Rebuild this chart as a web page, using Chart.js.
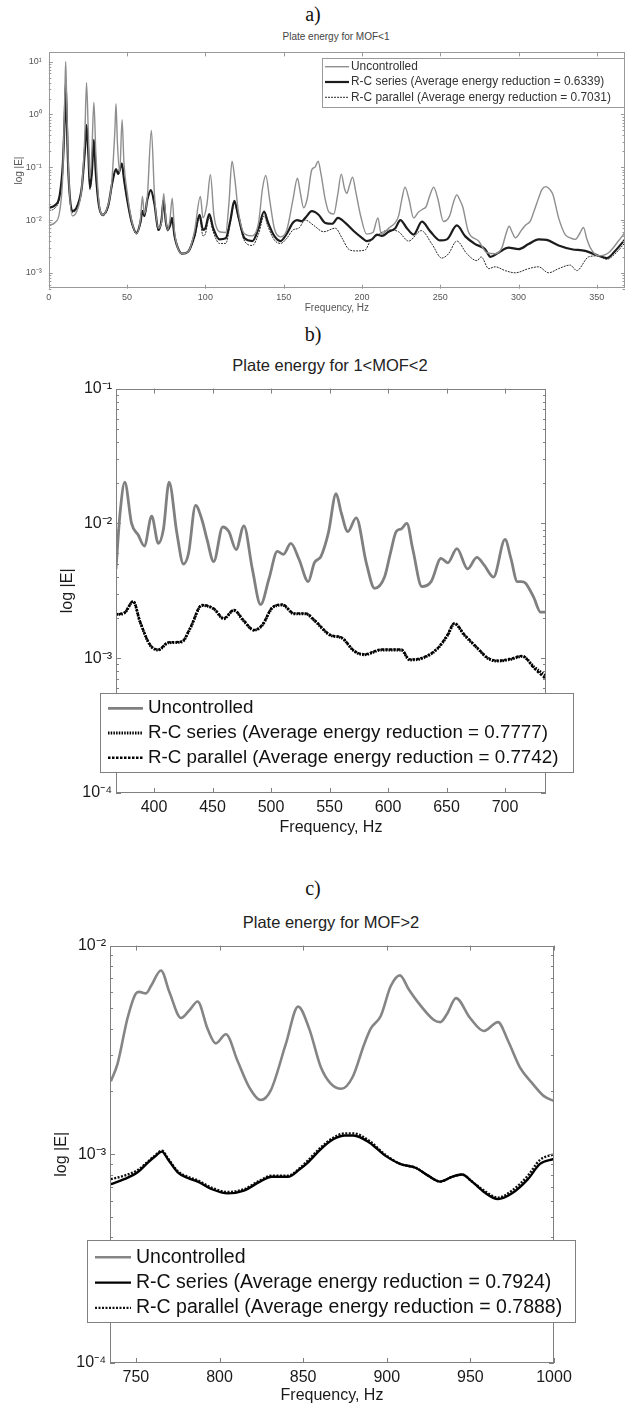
<!DOCTYPE html>
<html>
<head>
<meta charset="utf-8">
<script src="https://cdn.jsdelivr.net/npm/chart.js@4.4.1/dist/chart.umd.min.js"></script>
<style>
  body { margin: 0; background: #fff; }
  #page { position: relative; width: 626px; height: 1405px; overflow: hidden; }
  .letter { position: absolute; left: 0; width: 626px; text-align: center; font-family: "Liberation Serif", "Times New Roman", serif; font-size: 20px; line-height: 20px; color: #111; }
  .title { position: absolute; white-space: nowrap; transform: translate(-50%, -50%); font-family: "Liberation Sans", Arial, sans-serif; color: #222; }
  canvas { position: absolute; }
</style>
</head>
<body>
<div id="page">
  <div class="letter" style="top:4px">a)</div>
  <div class="title" style="left:336px; top:36px; font-size:10px; color:#444">Plate energy for MOF&lt;1</div>
  <canvas id="chartA" width="626" height="276" style="left:0; top:40px"></canvas>

  <div class="letter" style="top:324px">b)</div>
  <div class="title" style="left:330px; top:365px; font-size:16.5px">Plate energy for 1&lt;MOF&lt;2</div>
  <canvas id="chartB" width="586" height="470" style="left:40px; top:375px"></canvas>

  <div class="letter" style="top:878px">c)</div>
  <div class="title" style="left:331px; top:922px; font-size:16.5px">Plate energy for MOF&gt;2</div>
  <canvas id="chartC" width="586" height="473" style="left:40px; top:932px"></canvas>
</div>

<script>
/*
  Energia da placa em três faixas de frequência (MOF<1, 1<MOF<2, MOF>2).
  Valores, eixo y logarítmico.
*/

// ---------- a) MOF < 1 ----------
const aFreqUnc = [0, 4, 7, 9, 10.3, 10.8, 11.4, 12.5, 15, 18, 21, 23, 24.1, 25.2, 26.3, 27.5, 28.8, 30, 32, 34.5, 37, 40, 42.2, 42.9, 43.8, 45.3, 46.8, 48, 50, 53, 56, 58.5, 59.8, 61, 63, 65.5, 67.5, 70, 72, 73.4, 74.8, 76, 77.5, 78.8, 80.3, 82, 85, 89, 93, 96.8, 98.5, 101, 103.2, 105.5, 109, 113, 115, 117, 118.8, 121, 125, 130, 134, 136.5, 138.6, 141, 144, 148, 152, 156, 158.8, 160.5, 162.8, 165, 168, 170, 172, 174, 176.5, 179, 182, 184.5, 186.8, 188.8, 190.4, 192, 194, 196, 199, 203, 207, 210.2, 212.3, 217, 223.4, 225.5, 227.5, 230, 233, 236, 238.7, 241, 243.5, 245.8, 248.5, 252, 256, 258.5, 260.6, 262.5, 264.3, 268, 274.5, 279.8, 285, 289.4, 292, 294, 296, 298, 302, 304.4, 307.5, 310, 312.8, 315, 317.5, 320, 322, 325.6, 329.8, 333, 336.2, 339, 341.5, 343.5, 345.8, 351, 357.5, 363.8, 368];
const aUnc = [0.008, 0.009, 0.015, 0.08, 3, 10, 2, 0.1, 0.012, 0.015, 0.04, 0.4, 4, 0.5, 0.06, 0.2, 1.7, 0.2, 0.022, 0.0126, 0.016, 0.045, 0.5, 1.6, 0.3, 0.08, 0.8, 0.12, 0.035, 0.0095, 0.0055, 0.01, 0.028, 0.013, 0.03, 0.5, 0.03, 0.007, 0.009, 0.032, 0.01, 0.0065, 0.011, 0.026, 0.006, 0.0032, 0.0023, 0.0025, 0.006, 0.028, 0.011, 0.02, 0.072, 0.012, 0.006, 0.0058, 0.02, 0.13, 0.06, 0.015, 0.0055, 0.005, 0.009, 0.04, 0.07, 0.025, 0.007, 0.0048, 0.0065, 0.025, 0.062, 0.035, 0.017, 0.025, 0.09, 0.1, 0.13, 0.07, 0.025, 0.014, 0.013, 0.03, 0.074, 0.04, 0.032, 0.045, 0.065, 0.035, 0.0126, 0.0054, 0.0058, 0.011, 0.0054, 0.007, 0.012, 0.025, 0.042, 0.025, 0.011, 0.014, 0.016, 0.018, 0.03, 0.042, 0.025, 0.0094, 0.012, 0.022, 0.03, 0.024, 0.018, 0.006, 0.004, 0.0024, 0.0023, 0.003, 0.0055, 0.0076, 0.0058, 0.0046, 0.0065, 0.008, 0.0095, 0.015, 0.026, 0.038, 0.043, 0.038, 0.03, 0.011, 0.0053, 0.0046, 0.0043, 0.0055, 0.0072, 0.0045, 0.003, 0.0021, 0.0024, 0.004, 0.0058];

const aFreqSer = [0, 4, 7, 9, 10.3, 10.8, 11.4, 12.5, 15, 18, 21, 23, 24.1, 25.2, 26.3, 27.5, 28.8, 30, 32, 34.5, 38, 40.5, 42.9, 44.3, 46.7, 48, 50, 53, 56, 58.5, 59.8, 61, 63, 65.2, 67.5, 70, 72, 73.3, 74.8, 76, 77.5, 78.7, 80.3, 82, 85, 89, 93, 96.3, 98.5, 100, 102.5, 105, 109, 113, 116, 118.5, 121, 125, 130, 134, 137.5, 140, 144, 148, 152, 156, 158.6, 161.5, 163.8, 168, 172.3, 176.6, 181, 184.7, 189.4, 194.7, 200, 203, 206.4, 209.6, 212.8, 217, 221.3, 224.5, 228.7, 233, 238.3, 243.6, 250, 254.3, 260.6, 266, 272.3, 278.7, 282, 287.2, 293.6, 300, 306.4, 312.8, 318, 325.6, 334, 342.6, 351, 356.4, 361.7, 368];
const aSer = [0.017, 0.019, 0.03, 0.12, 1.2, 3.8, 1.0, 0.08, 0.0148, 0.018, 0.04, 0.2, 0.63, 0.2, 0.04, 0.08, 0.33, 0.08, 0.019, 0.0126, 0.019, 0.05, 0.092, 0.075, 0.117, 0.06, 0.025, 0.009, 0.0057, 0.009, 0.015, 0.012, 0.025, 0.037, 0.02, 0.0065, 0.01, 0.024, 0.009, 0.0065, 0.008, 0.011, 0.005, 0.0032, 0.0023, 0.0025, 0.005, 0.0125, 0.0065, 0.007, 0.013, 0.007, 0.0043, 0.0045, 0.01, 0.023, 0.012, 0.0045, 0.004, 0.007, 0.0145, 0.009, 0.005, 0.004, 0.0055, 0.009, 0.01, 0.0095, 0.011, 0.0147, 0.0126, 0.0088, 0.0085, 0.011, 0.0088, 0.0062, 0.0046, 0.004, 0.0043, 0.0053, 0.005, 0.006, 0.007, 0.01, 0.007, 0.0053, 0.0093, 0.0061, 0.0041, 0.0043, 0.0079, 0.0049, 0.0035, 0.0028, 0.002, 0.0024, 0.003, 0.0028, 0.0035, 0.0043, 0.0042, 0.0033, 0.0028, 0.0026, 0.0021, 0.0019, 0.0026, 0.0043];

const aFreqPar = [0, 4, 7, 9, 10.3, 10.8, 11.4, 12.5, 15, 18, 21, 23, 24.1, 25.2, 26.3, 27.5, 28.8, 30, 32, 34.5, 38, 40.5, 42.9, 44.3, 46.7, 48, 50, 53, 56, 58.5, 59.8, 61, 63, 65.2, 67.5, 70, 72, 73.3, 74.8, 76, 77.5, 78.7, 80.3, 82, 85, 89, 93, 96.3, 98.5, 100, 102.5, 105, 109, 113, 116, 118.5, 121, 125, 130, 134, 137.5, 140, 144, 148, 152, 156, 159.6, 163.8, 169, 175.5, 183, 187.2, 191.5, 196, 202, 205.3, 210.6, 217, 223.4, 229.8, 237.9, 244.7, 251, 255.3, 260.6, 267, 273.4, 276.2, 280.9, 285.1, 291.5, 297.9, 306.4, 312.8, 319.2, 325.6, 333, 337.2, 344.7, 351, 356.4, 361.7, 368];
const aPar = [0.015, 0.017, 0.028, 0.11, 1.1, 3.6, 0.9, 0.075, 0.0138, 0.017, 0.038, 0.19, 0.6, 0.19, 0.038, 0.075, 0.31, 0.075, 0.018, 0.012, 0.018, 0.047, 0.088, 0.072, 0.11, 0.057, 0.024, 0.0085, 0.0054, 0.0085, 0.014, 0.0115, 0.024, 0.035, 0.019, 0.0062, 0.0095, 0.023, 0.0085, 0.0062, 0.0076, 0.0105, 0.0048, 0.0031, 0.0023, 0.0025, 0.0045, 0.011, 0.005, 0.0055, 0.011, 0.006, 0.0036, 0.0036, 0.009, 0.021, 0.011, 0.004, 0.0033, 0.0055, 0.012, 0.0075, 0.0042, 0.0036, 0.0045, 0.0065, 0.007, 0.01, 0.008, 0.006, 0.007, 0.0046, 0.0028, 0.0026, 0.0027, 0.004, 0.0053, 0.0065, 0.006, 0.004, 0.0063, 0.0035, 0.0019, 0.0023, 0.004, 0.0023, 0.0017, 0.002, 0.0012, 0.0013, 0.0011, 0.001, 0.0012, 0.0013, 0.001, 0.0012, 0.0014, 0.0011, 0.002, 0.0021, 0.0018, 0.0023, 0.0037];

// ---------- b) 1 < MOF < 2 ----------
const bFreqUnc = [367.5, 371, 375, 380.8, 386.5, 391.7, 398, 403.7, 408, 412.9, 419.5, 425.2, 429.5, 435.5, 441, 445.3, 451, 458.7, 463.9, 470.2, 476.8, 484, 491.1, 498.3, 505.4, 510.6, 516.9, 524, 531.8, 537, 542.7, 549, 555.6, 560, 565.6, 572.8, 581.4, 588.5, 597, 602, 607, 611.3, 616.1, 621.2, 628.9, 636.8, 645.3, 651, 658.9, 668, 675.9, 682.2, 690.1, 700, 705, 710.5, 714, 717.6, 724.7, 730.3, 735];
const bUnc = [0.0046, 0.012, 0.0202, 0.01, 0.0082, 0.0068, 0.0113, 0.0071, 0.009, 0.0202, 0.0085, 0.005, 0.006, 0.0136, 0.0106, 0.0076, 0.0052, 0.0094, 0.0087, 0.0064, 0.0096, 0.0046, 0.0025, 0.0039, 0.0062, 0.0059, 0.0071, 0.0054, 0.0037, 0.0051, 0.0057, 0.0085, 0.0166, 0.012, 0.0087, 0.011, 0.0051, 0.0033, 0.004, 0.006, 0.0087, 0.0091, 0.01, 0.0064, 0.0034, 0.0037, 0.0055, 0.0051, 0.0065, 0.0046, 0.0056, 0.0049, 0.004, 0.0076, 0.0055, 0.0037, 0.0037, 0.0036, 0.0028, 0.0022, 0.0022];

const bFreqCtl = [367.5, 375, 382.2, 388, 396.6, 403.7, 412.3, 423.8, 430.9, 441, 451, 459.6, 468.2, 476.8, 485.4, 492.5, 501.1, 509.7, 519.8, 529.8, 537, 551.3, 559.9, 571.4, 580, 594.3, 605.7, 611.3, 618.4, 629.7, 642.5, 651, 656.7, 665.2, 676.5, 685, 693.5, 704.8, 714.7, 725, 735];
const bSer = [0.0021, 0.00217, 0.00263, 0.00186, 0.00125, 0.00115, 0.0013, 0.00132, 0.00166, 0.00246, 0.00232, 0.00196, 0.00226, 0.00188, 0.00161, 0.00175, 0.00236, 0.00248, 0.00213, 0.00213, 0.0019, 0.00147, 0.00142, 0.00112, 0.00106, 0.00115, 0.00115, 0.00115, 0.00097, 0.001, 0.00118, 0.00148, 0.0018, 0.00148, 0.00118, 0.001, 0.00095, 0.00098, 0.00103, 0.00086, 0.00074];
const bPar = [0.00212, 0.00219, 0.00265, 0.00188, 0.00126, 0.00116, 0.00131, 0.00133, 0.00168, 0.00248, 0.00234, 0.00198, 0.00228, 0.0019, 0.00162, 0.00177, 0.00238, 0.0025, 0.00215, 0.00215, 0.00192, 0.00148, 0.00143, 0.00113, 0.00107, 0.00116, 0.00116, 0.00116, 0.00098, 0.00101, 0.00119, 0.0015, 0.00182, 0.0015, 0.00119, 0.00101, 0.00096, 0.00099, 0.00104, 0.00084, 0.0007];

// ---------- c) MOF > 2 ----------
const cFreqUnc = [735, 739, 745, 750, 752, 756, 759, 765, 770, 777, 782, 786.9, 792.8, 797.8, 803.8, 810.8, 817.7, 824.7, 830.7, 839.6, 847, 853.6, 860.6, 866.5, 872.9, 879.5, 886.5, 890.4, 896.4, 902.4, 907.9, 913, 919.9, 928.2, 932, 936, 941.4, 949.8, 958.1, 966.5, 972.5, 979.7, 986.8, 994, 1000];
const cUnc = [0.00224, 0.00271, 0.0045, 0.0059, 0.006, 0.0059, 0.0064, 0.0076, 0.006, 0.0045, 0.0049, 0.0054, 0.004, 0.0034, 0.00376, 0.0028, 0.0021, 0.00182, 0.00203, 0.00337, 0.0051, 0.004, 0.00261, 0.00218, 0.00206, 0.00234, 0.00337, 0.004, 0.0046, 0.0064, 0.0072, 0.0062, 0.0052, 0.0044, 0.0043, 0.0047, 0.0056, 0.0045, 0.0039, 0.0043, 0.0035, 0.0026, 0.0022, 0.0019, 0.0018];

const cFreqCtl = [735, 743, 751, 757, 761, 765.6, 769, 775, 781, 787, 795.5, 805, 814.6, 824.2, 831.3, 840.9, 848.1, 852.6, 860.6, 868, 875, 880, 889.5, 899.5, 907.9, 917.5, 924.7, 931.9, 939, 945, 951, 958.1, 966.5, 974.9, 984.4, 991.6, 1000];
const cSer = [0.00072, 0.00076, 0.00082, 0.00091, 0.00097, 0.00103, 0.00095, 0.00082, 0.00077, 0.00074, 0.00068, 0.00065, 0.00067, 0.00074, 0.00078, 0.00078, 0.00085, 0.00091, 0.00106, 0.00118, 0.00123, 0.00123, 0.00114, 0.00098, 0.0009, 0.00086, 0.00079, 0.00074, 0.00078, 0.0008, 0.00074, 0.00066, 0.00061, 0.00065, 0.00076, 0.0009, 0.00095];
const cPar = [0.00076, 0.00079, 0.00084, 0.00092, 0.00098, 0.00104, 0.00096, 0.00083, 0.00078, 0.00075, 0.00069, 0.00066, 0.00068, 0.00075, 0.00079, 0.00079, 0.00086, 0.00093, 0.00108, 0.0012, 0.00126, 0.00126, 0.00116, 0.00099, 0.0009, 0.00086, 0.00079, 0.00074, 0.00078, 0.0008, 0.00074, 0.00067, 0.00062, 0.00067, 0.00079, 0.00094, 0.001];

// rótulos
const legendLabels = {
  a: ["Uncontrolled", "R-C series (Average energy reduction = 0.6339)", "R-C parallel (Average energy reduction = 0.7031)"],
  b: ["Uncontrolled", "R-C series (Average energy reduction = 0.7777)", "R-C parallel (Average energy reduction = 0.7742)"],
  c: ["Uncontrolled", "R-C series (Average energy reduction = 0.7924)", "R-C parallel (Average energy reduction = 0.7888)"],
};
const xTicksA = [0, 50, 100, 150, 200, 250, 300, 350];
const xTicksB = [400, 450, 500, 550, 600, 650, 700];
const xTicksC = [750, 800, 850, 900, 950, 1000];

const FONT = '"Liberation Sans", Arial, sans-serif';
const SUP = { "-": "\u207B", "0": "\u2070", "1": "\u00B9", "2": "\u00B2", "3": "\u00B3", "4": "\u2074" };

function toPoints(xs, ys) {
  return xs.map((x, i) => ({ x: x, y: ys[i] }));
}

function decadeLabel(v) {
  const e = String(Math.round(Math.log10(v)));
  return "10" + e.split("").map((c) => SUP[c] || c).join("");
}

/**
 * Moldura do eixo com marcas internas (estilo MATLAB), maiores e menores no eixo log.
 */
const frameTicks = {
  id: "frameTicks",
  afterDatasetsDraw(chart, args, o) {
    const { ctx, chartArea: a, scales: { x, y } } = chart;
    ctx.save();
    ctx.strokeStyle = o.color;
    ctx.lineWidth = 1;
    ctx.beginPath();
    x.ticks.forEach((t) => {
      const px = Math.round(x.getPixelForValue(t.value)) + 0.5;
      ctx.moveTo(px, a.bottom); ctx.lineTo(px, a.bottom - o.major);
      ctx.moveTo(px, a.top); ctx.lineTo(px, a.top + o.major);
    });
    const d0 = Math.floor(Math.log10(y.min));
    const d1 = Math.ceil(Math.log10(y.max));
    for (let d = d0; d <= d1; d++) {
      for (let m = 1; m <= 9; m++) {
        const v = m * Math.pow(10, d);
        if (v < y.min || v > y.max) continue;
        const len = m === 1 ? o.major : o.minor;
        const py = Math.round(y.getPixelForValue(v)) + 0.5;
        ctx.moveTo(a.left, py); ctx.lineTo(a.left + len, py);
        ctx.moveTo(a.right, py); ctx.lineTo(a.right - len, py);
      }
    }
    ctx.stroke();
    ctx.strokeRect(Math.round(a.left) + 0.5, Math.round(a.top) + 0.5, Math.round(a.width) - 1, Math.round(a.height) - 1);
    ctx.restore();
  },
};

/**
 * Legenda em caixa, posicionada livremente (pode sair da área do gráfico).
 */
const boxLegend = {
  id: "boxLegend",
  afterDraw(chart, args, o) {
    const ctx = chart.ctx;
    ctx.save();
    ctx.fillStyle = "#fff";
    ctx.fillRect(o.x, o.y, o.w, o.h);
    ctx.strokeStyle = o.border;
    ctx.lineWidth = 1;
    ctx.strokeRect(o.x + 0.5, o.y + 0.5, o.w, o.h);
    ctx.font = o.fontSize + "px " + FONT;
    ctx.textBaseline = "middle";
    chart.data.datasets.forEach((ds, i) => {
      const yy = o.y + o.firstRow + i * o.rowGap;
      ctx.strokeStyle = ds.borderColor;
      ctx.lineWidth = ds.borderWidth;
      ctx.setLineDash(ds.borderDash || []);
      ctx.beginPath();
      ctx.moveTo(o.x + o.lineX, yy);
      ctx.lineTo(o.x + o.lineX + o.lineLen, yy);
      ctx.stroke();
      ctx.setLineDash([]);
      ctx.fillStyle = o.textColor;
      ctx.fillText(ds.label, o.x + o.lineX + o.lineLen + o.gap, yy);
    });
    ctx.restore();
  },
};

function makeChart(id, p) {
  return new Chart(document.getElementById(id), {
    type: "line",
    data: { datasets: p.datasets },
    plugins: [frameTicks, boxLegend],
    options: {
      responsive: false,
      animation: false,
      events: [],
      layout: { padding: p.padding },
      elements: { point: { radius: 0 }, line: { cubicInterpolationMode: "monotone", borderCapStyle: "butt" } },
      plugins: {
        legend: { display: false },
        tooltip: { enabled: false },
        frameTicks: p.frame,
        boxLegend: p.legend,
      },
      scales: {
        x: {
          type: "linear",
          min: p.xMin,
          max: p.xMax,
          afterBuildTicks: (s) => { s.ticks = p.xTicks.map((v) => ({ value: v })); },
          afterFit: (s) => { s.height = p.xHeight; },
          grid: { display: false, drawTicks: false },
          border: { display: false },
          ticks: { color: p.tickColor, font: { family: FONT, size: p.tickSize }, padding: p.xTickPad, maxRotation: 0, callback: (v) => String(v) },
          title: { display: true, text: "Frequency, Hz", color: p.tickColor, font: { family: FONT, size: p.labelSize }, padding: { top: 0, bottom: p.xTitlePad } },
        },
        y: {
          type: "logarithmic",
          min: p.yMin,
          max: p.yMax,
          afterBuildTicks: (s) => {
            const t = [];
            for (let d = Math.ceil(Math.log10(p.yMin) - 1e-9); d <= Math.floor(Math.log10(p.yMax) + 1e-9); d++) t.push({ value: Math.pow(10, d) });
            s.ticks = t;
          },
          afterFit: (s) => { s.width = p.yWidth; },
          grid: { display: false, drawTicks: false },
          border: { display: false },
          ticks: { color: p.tickColor, font: { family: FONT, size: p.tickSize }, padding: p.yTickPad, callback: (v) => decadeLabel(v) },
          title: { display: true, text: "log |E|", color: p.tickColor, font: { family: FONT, size: p.labelSize }, padding: { top: p.yTitlePad, bottom: 0 } },
        },
      },
    },
  });
}

// a)
makeChart("chartA", {
  datasets: [
    { label: legendLabels.a[0], data: toPoints(aFreqUnc, aUnc), borderColor: "#8e8e8e", borderWidth: 1.4 },
    { label: legendLabels.a[1], data: toPoints(aFreqSer, aSer), borderColor: "#1c1c1c", borderWidth: 2.2 },
    { label: legendLabels.a[2], data: toPoints(aFreqPar, aPar), borderColor: "#2a2a2a", borderWidth: 1, borderDash: [2, 1] },
  ],
  padding: { top: 7.7, right: 1, left: 0, bottom: 0 },
  xMin: 0, xMax: 368, xTicks: xTicksA, xHeight: 27.3,
  yMin: 5e-4, yMax: 15, yWidth: 48.8,
  tickColor: "#555", tickSize: 9, labelSize: 10,
  xTickPad: 3, xTitlePad: 2, yTickPad: 7, yTitlePad: 13,
  frame: { color: "#999", major: 4, minor: 2.5 },
  legend: { x: 322, y: 18, w: 302, h: 49, firstRow: 8.7, rowGap: 15.3, lineX: 3, lineLen: 24, gap: 2, fontSize: 11.9, border: "#999", textColor: "#333" },
});

// b)
makeChart("chartB", {
  datasets: [
    { label: legendLabels.b[0], data: toPoints(bFreqUnc, bUnc), borderColor: "#808080", borderWidth: 2.8 },
    { label: legendLabels.b[1], data: toPoints(bFreqCtl, bSer), borderColor: "#000", borderWidth: 2.8, borderDash: [1.5, 1.2] },
    { label: legendLabels.b[2], data: toPoints(bFreqCtl, bPar), borderColor: "#000", borderWidth: 2.4, borderDash: [2.5, 1.5] },
  ],
  padding: { top: 8, right: 80, left: 0, bottom: 0 },
  xMin: 367.5, xMax: 735, xTicks: xTicksB, xHeight: 52,
  yMin: 1e-4, yMax: 1e-1, yWidth: 76,
  tickColor: "#1a1a1a", tickSize: 16, labelSize: 16,
  xTickPad: 5, xTitlePad: 8, yTickPad: 4, yTitlePad: 18,
  frame: { color: "#808080", major: 5, minor: 3 },
  legend: { x: 60, y: 318, w: 473, h: 79, firstRow: 15.3, rowGap: 24.7, lineX: 8, lineLen: 35, gap: 5, fontSize: 18.8, border: "#808080", textColor: "#111" },
});

// c)
makeChart("chartC", {
  datasets: [
    { label: legendLabels.c[0], data: toPoints(cFreqUnc, cUnc), borderColor: "#858585", borderWidth: 2.6 },
    { label: legendLabels.c[1], data: toPoints(cFreqCtl, cSer), borderColor: "#000", borderWidth: 2.4 },
    { label: legendLabels.c[2], data: toPoints(cFreqCtl, cPar), borderColor: "#111", borderWidth: 2.4, borderDash: [2, 1.5] },
  ],
  padding: { top: 8, right: 72, left: 0, bottom: 0 },
  xMin: 734.5, xMax: 1000, xTicks: xTicksC, xHeight: 42,
  yMin: 1e-4, yMax: 1e-2, yWidth: 70,
  tickColor: "#1a1a1a", tickSize: 16, labelSize: 16,
  xTickPad: 5, xTitlePad: 0, yTickPad: 4, yTitlePad: 12,
  frame: { color: "#808080", major: 5, minor: 3 },
  legend: { x: 47, y: 308, w: 488, h: 82, firstRow: 17.3, rowGap: 25.3, lineX: 8, lineLen: 36, gap: 5, fontSize: 19.5, border: "#808080", textColor: "#111" },
});
</script>
</body>
</html>
